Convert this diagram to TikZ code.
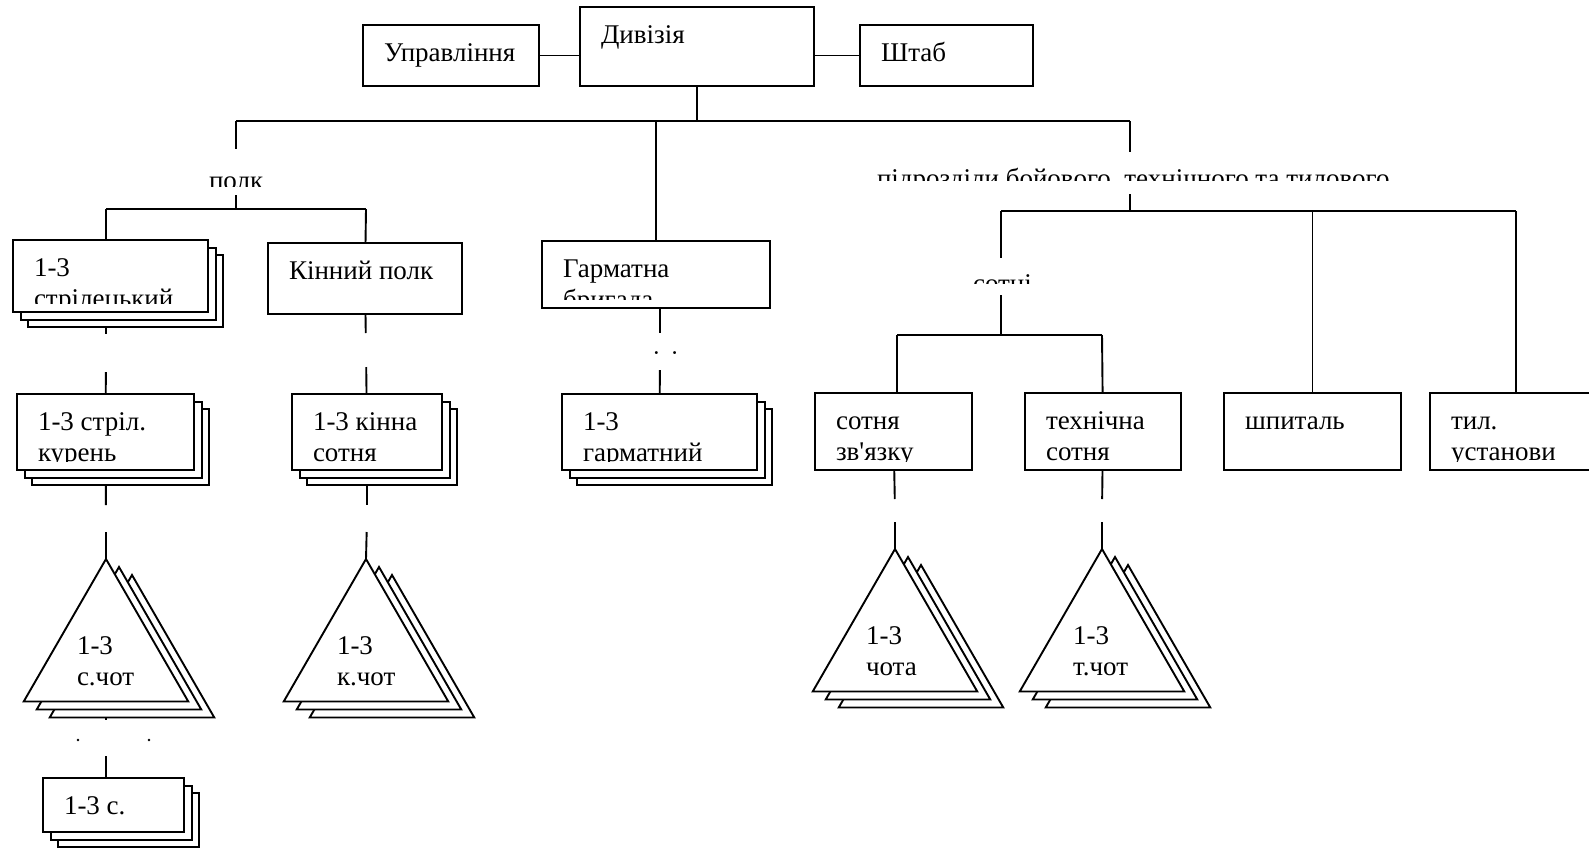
\documentclass[tikz,border=0pt]{standalone}
\usepackage{fontspec}
\setmainfont{Liberation Serif}[Ligatures=TeXOff]
\usetikzlibrary{positioning,shapes.geometric,shadows,backgrounds}
\newcommand{\wfont}{\rmfamily\fontsize{27}{31}\selectfont}
% text of a Word box: x inset, first baseline, bottom clip inset, text
\newcommand{\wtext}[4]{%
	\clip ([yshift=#3]path picture bounding box.south west) rectangle (path picture bounding box.north east);
	\pgftext[left,base,at={\pgfpointadd{\pgfpointanchor{path picture bounding box}{north west}}{\pgfpoint{#1}{-#2}}}]{\wfont\parbox[t]{600pt}{#4}}}
\tikzset{
	org/.style={x=1pt,y=-1pt,line width=1.9pt},
	unit/.style={draw,fill=white,anchor=north west,inner sep=0pt,outer sep=0pt},
	txt/.style={path picture={\wtext{21pt}{36pt}{9pt}{#1}}},
	unitstack/.style={copy shadow={shadow xshift=15pt,shadow yshift=-15pt,draw=black,fill=white},
		copy shadow={shadow xshift=8pt,shadow yshift=-8pt,draw=black,fill=white}},
	tri/.style={regular polygon,regular polygon sides=3,minimum size=190pt,draw,fill=white,
		inner sep=0pt,outer sep=0pt,anchor=corner 1},
	tristack/.style={copy shadow={shadow xshift=26pt,shadow yshift=-16pt,draw=black,fill=white},
		copy shadow={shadow xshift=13pt,shadow yshift=-8pt,draw=black,fill=white}},
	tritxt/.style={path picture={\pgftext[left,base,at={\pgfpointadd{\pgfpointanchor{path picture bounding box}{north}}{\pgfpoint{-29pt}{-95pt}}}]{\wfont\parbox[t]{200pt}{#1}}}},
	lbl/.style={inner sep=0pt,outer sep=0pt},
	lgap/.style={inner sep=0pt,outer sep=0pt,minimum width=20pt}
}

\begin{document}
\begin{tikzpicture}[org]
	\useasboundingbox (0,0) rectangle (1589,849);

	% top level
	\node[unit,txt={Управління},minimum width=176pt,minimum height=61pt] (upr) at (363,25) {};
	\node[unit,txt={Дивізія},minimum width=234pt,minimum height=79pt] (div) at (580,7) {};
	\node[unit,txt={Штаб},minimum width=173pt,minimum height=61pt] (shtab) at (860,25) {};

	% hidden captions
	\node[lbl,minimum width=96pt,minimum height=46pt,path picture={\wtext{21pt}{40pt}{9pt}{полк}}] (polk) at (236,172) {};
	\node[lbl,minimum width=548pt,minimum height=42pt,path picture={\wtext{21pt}{35.5pt}{14pt}{підрозділи бойового, технічного та тилового}}] (pidr) at (1130,173) {};
	\node[lbl,minimum width=98pt,minimum height=37pt,path picture={\wtext{21pt}{34.5pt}{12pt}{сотні}}] (sotni) at (1001,276.5) {};
	\node[lbl,minimum width=138pt,minimum height=37pt,path picture={\wtext{21pt}{36.5pt}{15pt}{дивізіон}}] (dyviz) at (660,351.5) {};

	% regiments
	\node[unit,unitstack,txt={1-3\\стрілецький},minimum width=195pt,minimum height=72pt] (strk) at (13,240) {};
	\node[unit,txt={Кінний полк},minimum width=194pt,minimum height=71pt] (kin) at (268,243) {};
	\node[unit,txt={Гарматна\\бригада},minimum width=228pt,minimum height=67pt] (harm) at (542,241) {};

	% second row
	\node[unit,unitstack,txt={1-3 стріл.\\курень},minimum width=177pt,minimum height=76pt] (kurin) at (17,394) {};
	\node[unit,unitstack,txt={1-3 кінна\\сотня},minimum width=150pt,minimum height=76pt] (kinna) at (292,394) {};
	\node[unit,unitstack,txt={1-3\\гарматний},minimum width=195pt,minimum height=76pt] (harmat) at (562,394) {};
	\node[unit,txt={сотня\\зв'язку},minimum width=157pt,minimum height=77pt] (sotnia) at (815,393) {};
	\node[unit,txt={технічна\\сотня},minimum width=156pt,minimum height=77pt] (tekh) at (1025,393) {};
	\node[unit,txt={шпиталь},minimum width=177pt,minimum height=77pt] (shpit) at (1224,393) {};
	\node[unit,txt={тил.\\установи},minimum width=180pt,minimum height=77pt] (tyl) at (1430,393) {};

	% platoons
	\node[tri,tristack,tritxt={1-3\\с.чот}] (chots) at (106,559) {};
	\node[tri,tristack,tritxt={1-3\\к.чот}] (chotk) at (366,559) {};
	\node[tri,tristack,tritxt={1-3\\чота}] (chotz) at (895,549) {};
	\node[tri,tristack,tritxt={1-3\\т.чот}] (chott) at (1102,549) {};
	\node[unit,unitstack,txt={1-3 с.},minimum width=141pt,minimum height=54pt] (sc) at (43,778) {};

	% empty gaps in the lines
	\node[lgap,minimum height=38pt] (gapa) at (106,353) {};
	\node[lgap,minimum height=34pt] (gapb) at (366,350) {};
	\node[lgap,minimum height=27pt] (gapc) at (106,518.5) {};
	\node[lgap,minimum height=27pt] (gapd) at (367,518.5) {};
	\node[lgap,minimum height=36pt] (gape) at (106,738) {};
	\node[lgap,minimum height=23pt] (gapf) at (895,510.5) {};
	\node[lgap,minimum height=23pt] (gapg) at (1102,510.5) {};
	\fill (gape) ++(-28,2) circle (1.3pt);
	\fill (gape) ++(43,2) circle (1.3pt);

	\coordinate (busal) at (236,121);
	\coordinate (busar) at (1130,121);
	\coordinate (busbl) at (106,209);
	\coordinate (busbr) at (366,209);
	\coordinate (buscl) at (1001,211);
	\coordinate (buscr) at (1516,211);
	\coordinate (busdl) at (897,335);
	\coordinate (busdr) at (1102,335);

	\begin{scope}[on background layer={line width=1.9pt}]
	\draw (upr) -- (upr -| div.west);
	\draw (shtab) -- (shtab -| div.east);
	\draw (div) -- (div |- busal);
	\draw (busal) -- (busar);
	\draw (busal) -- (polk);
	\draw (harm |- busal) -- (harm);
	\draw (busar) -- (pidr);
	\draw (polk) -- (polk |- busbl);
	\draw (busbl) -- (busbr);
	\draw (busbl) -- (busbl |- strk.north);
	\draw (busbr) -- (kin);
	\draw (gapa |- strk.south) -- (gapa);
	\draw (gapa) -- (kurin);
	\draw (kin) -- (gapb);
	\draw (gapb) -- (kinna);
	\draw (kurin) -- (gapc);
	\draw (gapc) -- (chots.corner 1);
	\draw (kinna) -- (gapd);
	\draw (gapd) -- (chotk.corner 1);
	\draw (chots) -- (gape);
	\draw (gape) -- (gape |- sc.north);
	\draw (dyviz |- harm.south) -- (dyviz);
	\draw (dyviz) -- (harmat);
	\draw (pidr) -- (pidr |- buscl);
	\draw (buscl) -- (buscr);
	\draw (buscl) -- (sotni);
	\draw (shpit |- buscl) -- (shpit);
	\draw (buscr) -- (buscr |- tyl.north);
	\draw (sotni) -- (sotni |- busdl);
	\draw (busdl) -- (busdr);
	\draw (busdl) -- (busdl |- sotnia.north);
	\draw (busdr) -- (tekh);
	\draw (sotnia) -- (gapf);
	\draw (gapf) -- (chotz.corner 1);
	\draw (tekh) -- (gapg);
	\draw (gapg) -- (chott.corner 1);
	\end{scope}

\end{tikzpicture}
\end{document}
